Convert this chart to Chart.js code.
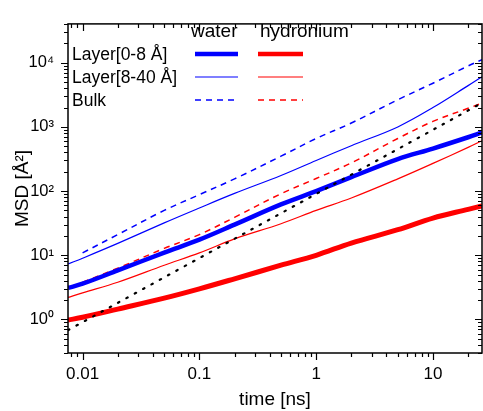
<!DOCTYPE html>
<html>
<head>
<meta charset="utf-8">
<script src="https://cdn.jsdelivr.net/npm/chart.js@4.4.1/dist/chart.umd.min.js"></script>
<style>
  html, body { margin: 0; padding: 0; background: #fff; }
  canvas { display: block; }
</style>
</head>
<body>
<canvas id="msdChart" width="483" height="411"></canvas>
<script>
// time axis [ns] shared by the MSD curves
const timeNs = [0.0075, 0.01, 0.02, 0.05, 0.1, 0.2, 0.5, 1, 2, 5, 10, 20, 26.3];

// water MSD [A^2]
const waterLayer1 = [3.1, 3.6, 5.8, 11, 17.5, 30, 62, 100, 165, 315, 460, 690, 820];
const waterLayer2 = [7.3, 9.0, 15.3, 32, 54.6, 92, 175, 300, 510, 1000, 2000, 4400, 6060];
const waterBulk = [null, 10.9, 21, 50, 88, 155, 350, 660, 1150, 2650, 4800, 8900, 11200];

// hydronium MSD [A^2]
const hydLayer1 = [0.98, 1.08, 1.45, 2.15, 3.0, 4.3, 7.0, 10, 15.5, 25, 38, 52, 59];
const hydLayer2 = [2.2, 2.6, 3.8, 7.0, 10.9, 18, 31, 50, 78, 155, 270, 480, 610];
const hydBulk = [null, 3.8, 6.3, 12.8, 21, 39, 91, 157, 275, 660, 1220, 1950, 2340];

// slope-1 guide line
const guideTime = [0.0075, 26.3];
const guideMSD = [0.68, 2370];

const xTickValues = [0.01, 0.1, 1, 10];
const xTickLabels = ['0.01', '0.1', '1', '10'];
const yTickValues = [1, 10, 100, 1000, 10000];
const yTickLabels = ['10\u2070', '10\u00b9', '10\u00b2', '10\u00b3', '10\u2074'];

const BLUE = '#0000ff';
const RED = '#ff0000';
const FONT = '"Liberation Sans", Arial, sans-serif';

function pts(xs, ys) {
    const out = [];
    xs.forEach(function(x, i) {
        if (ys[i] !== null) out.push({ x: x, y: ys[i] });
    });
    return out;
}

// minor + major tick marks on all four sides, and the frame
const frameTicks = {
    id: 'frameTicks',
    afterDraw(chart) {
        const ctx = chart.ctx;
        const a = chart.chartArea;
        const xs = chart.scales.x, ys = chart.scales.y;
        ctx.save();
        ctx.strokeStyle = '#000';
        ctx.lineWidth = 1.5;
        ctx.strokeRect(a.left, a.top, a.right - a.left, a.bottom - a.top);
        ctx.lineWidth = 1.2;
        function logTicks(min, max) {
            const list = [];
            for (let e = Math.floor(Math.log10(min)); e <= Math.ceil(Math.log10(max)); e++) {
                for (let m = 1; m <= 9; m++) {
                    const v = m * Math.pow(10, e);
                    if (v >= min && v <= max) list.push({ v: v, major: m === 1 });
                }
            }
            return list;
        }
        ctx.beginPath();
        logTicks(xs.min, xs.max).forEach(function(t) {
            const px = Math.round(xs.getPixelForValue(t.v)) + 0.5;
            const len = t.major ? 7 : 4;
            ctx.moveTo(px, a.bottom); ctx.lineTo(px, a.bottom + len);
            ctx.moveTo(px, a.top); ctx.lineTo(px, a.top + len);
        });
        logTicks(ys.min, ys.max).forEach(function(t) {
            const py = Math.round(ys.getPixelForValue(t.v)) + 0.5;
            const len = t.major ? 7 : 4;
            ctx.moveTo(a.left, py); ctx.lineTo(a.left - len, py);
            ctx.moveTo(a.right, py); ctx.lineTo(a.right - len, py);
        });
        ctx.stroke();
        ctx.restore();
    }
};

// two-column legend (water / hydronium)
const pairLegend = {
    id: 'pairLegend',
    afterDraw(chart) {
        const ctx = chart.ctx;
        ctx.save();
        ctx.fillStyle = '#000';
        ctx.textBaseline = 'middle';
        ctx.textAlign = 'left';
        ctx.font = '19px ' + FONT;
        ctx.fillText('water', 191, 32);
        ctx.fillText('hydronium', 260, 32);
        ctx.font = '17.5px ' + FONT;
        const rows = [
            { label: 'Layer[0-8 \u00c5]', y: 54, width: 4.5, dash: [] },
            { label: 'Layer[8-40 \u00c5]', y: 77, width: 1.2, dash: [] },
            { label: 'Bulk', y: 100, width: 1.5, dash: [6, 5] }
        ];
        rows.forEach(function(r) {
            ctx.fillStyle = '#000';
            ctx.fillText(r.label, 72, r.y + 1);
            ctx.lineWidth = r.width;
            ctx.setLineDash(r.dash);
            ctx.strokeStyle = BLUE;
            ctx.beginPath(); ctx.moveTo(195, r.y); ctx.lineTo(238, r.y); ctx.stroke();
            ctx.strokeStyle = RED;
            ctx.beginPath(); ctx.moveTo(258, r.y); ctx.lineTo(303, r.y); ctx.stroke();
        });
        ctx.restore();
    }
};

const tickFont = { family: FONT, size: 17 };
const titleFont = { family: FONT, size: 19 };

new Chart(document.getElementById('msdChart'), {
    type: 'line',
    data: {
        datasets: [
            { label: 'guide', data: pts(guideTime, guideMSD), borderColor: '#000', borderWidth: 2.2, borderDash: [1.5, 8], borderCapStyle: 'round', order: 0 },
            { label: 'water Layer[0-8]', data: pts(timeNs, waterLayer1), borderColor: BLUE, borderWidth: 4.5, order: 1 },
            { label: 'hydronium Layer[0-8]', data: pts(timeNs, hydLayer1), borderColor: RED, borderWidth: 5, order: 2 },
            { label: 'water Layer[8-40]', data: pts(timeNs, waterLayer2), borderColor: BLUE, borderWidth: 1.2, order: 3 },
            { label: 'hydronium Layer[8-40]', data: pts(timeNs, hydLayer2), borderColor: RED, borderWidth: 1.2, order: 4 },
            { label: 'water Bulk', data: pts(timeNs, waterBulk), borderColor: BLUE, borderWidth: 1.5, borderDash: [6, 5], order: 5 },
            { label: 'hydronium Bulk', data: pts(timeNs, hydBulk), borderColor: RED, borderWidth: 1.5, borderDash: [6, 5], order: 6 }
        ]
    },
    options: {
        responsive: false,
        animation: false,
        events: [],
        layout: { padding: { top: 13, right: 1, left: 0, bottom: 0 } },
        elements: {
            point: { radius: 0 },
            line: { tension: 0.35, fill: false }
        },
        plugins: {
            legend: { display: false },
            tooltip: { enabled: false }
        },
        scales: {
            x: {
                type: 'logarithmic',
                min: 0.0075,
                max: 26.3,
                grid: { display: false, drawTicks: false },
                border: { display: false },
                afterBuildTicks: function(axis) {
                    axis.ticks = xTickValues.map(function(v) { return { value: v }; });
                },
                afterFit: function(axis) { axis.height = 58; },
                ticks: {
                    font: tickFont,
                    color: '#000',
                    padding: 11,
                    maxRotation: 0,
                    autoSkip: false,
                    callback: function(v) {
                        const i = xTickValues.indexOf(v);
                        return i >= 0 ? xTickLabels[i] : '';
                    }
                },
                title: { display: true, text: 'time [ns]', font: titleFont, color: '#000', padding: { top: 4, bottom: 0 } }
            },
            y: {
                type: 'logarithmic',
                min: 0.335,
                max: 40300,
                grid: { display: false, drawTicks: false },
                border: { display: false },
                afterBuildTicks: function(axis) {
                    axis.ticks = yTickValues.map(function(v) { return { value: v }; });
                },
                afterFit: function(axis) { axis.width = 68; },
                ticks: {
                    font: { family: FONT, size: 16.5 },
                    color: '#000',
                    padding: 14,
                    autoSkip: false,
                    callback: function(v) {
                        const i = yTickValues.indexOf(v);
                        return i >= 0 ? yTickLabels[i] : '';
                    }
                },
                title: { display: true, text: 'MSD [\u00c5\u00b2]', font: titleFont, color: '#000', padding: { top: 11, bottom: 0 } }
            }
        }
    },
    plugins: [frameTicks, pairLegend]
});
</script>
</body>
</html>
